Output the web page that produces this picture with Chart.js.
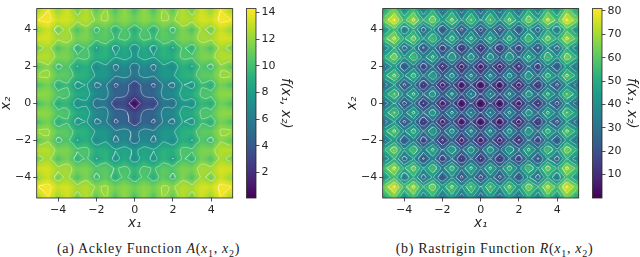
<!DOCTYPE html>
<html>
  <head>
    <meta charset="utf-8">
    <title>Ackley and Rastrigin</title>
    <script src="https://cdn.jsdelivr.net/npm/chart.js@4"></script>
    <style>
      html, body { margin: 0; padding: 0; background: #fff; width: 640px; height: 257px; overflow: hidden; }
      canvas { position: absolute; }
      .cap { position: absolute; top: 241px; font: 14px "Liberation Serif", serif; color: #222; white-space: nowrap; letter-spacing: 0.7px; transform: translateX(-50%); }
      .cap sub { font-size: 10px; line-height: 0; }
    </style>
  </head>
  <body>
    <canvas id="heat0"></canvas>
    <canvas id="bar0"></canvas>
    <canvas id="heat1"></canvas>
    <canvas id="bar1"></canvas>
    <div class="cap" style="left:148.5px">(a) Ackley Function <i>A</i>(<i>x</i><sub>1</sub>, <i>x</i><sub>2</sub>)</div>
    <div class="cap" style="left:494.5px">(b) Rastrigin Function <i>R</i>(<i>x</i><sub>1</sub>, <i>x</i><sub>2</sub>)</div>
    <script type="text/javascript">
      // quarter of each surface, x and y from 0 to 5 in steps of 0.25 (the picture is mirror symmetric)
      const gridStep = 0.25;
      const ackleyRows = [
        [0,1.8,3.1,3.1,2.6,4.3,5.5,5.5,4.9,6.5,7.7,7.5,6.9,8.4,9.5,9.3,8.6,10.1,11.1,10.9,10.1],
        [1.8,2.7,3.6,3.8,3.8,5.0,6.0,6.1,6.0,7.2,8.1,8.2,8.0,9.1,9.9,10.0,9.7,10.8,11.5,11.5,11.2],
        [3.1,3.6,4.3,4.5,4.6,5.6,6.3,6.6,6.8,7.7,8.4,8.6,8.7,9.6,10.2,10.4,10.4,11.2,11.8,11.9,11.9],
        [3.1,3.8,4.5,4.5,4.3,5.4,6.3,6.4,6.3,7.4,8.3,8.3,8.2,9.2,10.1,10.1,9.8,10.9,11.6,11.6,11.3],
        [2.6,3.8,4.6,4.3,3.6,5.1,6.2,6.0,5.4,7.0,8.1,7.8,7.2,8.7,9.8,9.5,8.8,10.3,11.3,11.0,10.3],
        [4.3,5.0,5.6,5.4,5.1,6.1,6.9,6.9,6.7,7.8,8.6,8.7,8.4,9.5,10.3,10.3,10.0,11.0,11.8,11.7,11.4],
        [5.5,6.0,6.3,6.3,6.2,6.9,7.5,7.7,7.7,8.5,9.1,9.3,9.3,10.1,10.7,10.8,10.8,11.5,12.1,12.2,12.2],
        [5.5,6.1,6.6,6.4,6.0,6.9,7.7,7.6,7.3,8.3,9.1,9.1,8.8,9.9,10.6,10.6,10.3,11.3,12.0,12.0,11.6],
        [4.9,6.0,6.8,6.3,5.4,6.7,7.7,7.3,6.6,8.0,9.0,8.7,7.9,9.4,10.4,10.1,9.4,10.8,11.8,11.4,10.7],
        [6.5,7.2,7.7,7.4,7.0,7.8,8.5,8.3,8.0,9.0,9.7,9.6,9.3,10.3,11.0,10.9,10.6,11.6,12.3,12.2,11.9],
        [7.7,8.1,8.4,8.3,8.1,8.6,9.1,9.1,9.0,9.7,10.2,10.3,10.2,10.9,11.5,11.5,11.5,12.2,12.7,12.8,12.7],
        [7.5,8.2,8.6,8.3,7.8,8.7,9.3,9.1,8.7,9.6,10.3,10.2,9.8,10.8,11.4,11.4,11.0,12.0,12.6,12.5,12.2],
        [6.9,8.0,8.7,8.2,7.2,8.4,9.3,8.8,7.9,9.3,10.2,9.8,9.0,10.4,11.3,10.9,10.1,11.5,12.4,12.1,11.2],
        [8.4,9.1,9.6,9.2,8.7,9.5,10.1,9.9,9.4,10.3,10.9,10.8,10.4,11.3,11.9,11.8,11.4,12.3,13.0,12.9,12.5],
        [9.5,9.9,10.2,10.1,9.8,10.3,10.7,10.6,10.4,11.0,11.5,11.4,11.3,11.9,12.4,12.4,12.3,12.9,13.4,13.4,13.3],
        [9.3,10.0,10.4,10.1,9.5,10.3,10.8,10.6,10.1,10.9,11.5,11.4,10.9,11.8,12.4,12.3,11.9,12.8,13.4,13.2,12.8],
        [8.6,9.7,10.4,9.8,8.8,10.0,10.8,10.3,9.4,10.6,11.5,11.0,10.1,11.4,12.3,11.9,11.0,12.3,13.2,12.8,11.9],
        [10.1,10.8,11.2,10.9,10.3,11.0,11.5,11.3,10.8,11.6,12.2,12.0,11.5,12.3,12.9,12.8,12.3,13.2,13.8,13.6,13.2],
        [11.1,11.5,11.8,11.6,11.3,11.8,12.1,12.0,11.8,12.3,12.7,12.6,12.4,13.0,13.4,13.4,13.2,13.8,14.2,14.2,14.0],
        [10.9,11.5,11.9,11.6,11.0,11.7,12.2,12.0,11.4,12.2,12.8,12.5,12.1,12.9,13.4,13.2,12.8,13.6,14.2,14.0,13.5],
        [10.1,11.2,11.9,11.3,10.3,11.4,12.2,11.6,10.7,11.9,12.7,12.2,11.2,12.5,13.3,12.8,11.9,13.2,14.0,13.5,12.6]
      ];
      const rastriginRows = [
        [0,10,20,11,1,12,22,13,4,15,26,18,9,21,32,24,16,28,40,33,25],
        [10,20,30,21,11,22,32,23,14,25,36,28,19,31,42,34,26,38,50,43,35],
        [20,30,41,31,21,32,43,33,24,35,47,38,29,41,53,44,36,48,61,53,45],
        [11,21,31,21,12,22,33,24,15,26,37,28,20,31,43,35,27,39,51,43,36],
        [1,11,21,12,2,13,23,14,5,16,27,19,9.5,22,33,25,17,29,41,34,26],
        [12,22,32,22,13,23,34,25,16,27,38,29,21,32,44,36,28,40,52,44,37],
        [22,32,43,33,23,34,45,35,26,37,49,40,31,43,55,46,38,50,63,55,47],
        [13,23,33,24,14,25,35,26,17,28,39,31,22,34,45,37,29,41,53,46,38],
        [4,14,24,15,5,16,26,17,8,19,30,22,13,25,36,28,20,32,44,37,29],
        [15,25,35,26,16,27,37,28,19,30,41,33,24,36,47,39,31,43,55,48,40],
        [26,36,47,37,27,38,49,39,30,41,53,44,35,47,59,50,42,54,67,59,51],
        [18,28,38,28,19,29,40,31,22,33,44,35,27,38,50,42,34,46,58,50,43],
        [9,19,29,20,9.5,21,31,22,13,24,35,27,18,30,41,33,25,37,49,42,34],
        [21,31,41,31,22,32,43,34,25,36,47,38,30,41,53,45,37,49,61,53,46],
        [32,42,53,43,33,44,55,45,36,47,59,50,41,53,65,56,48,60,73,65,57],
        [24,34,44,35,25,36,46,37,28,39,50,42,33,45,56,48,40,52,64,57,49],
        [16,26,36,27,17,28,38,29,20,31,42,34,25,37,48,40,32,44,56,49,41],
        [28,38,48,39,29,40,50,41,32,43,54,46,37,49,60,52,44,56,68,61,53],
        [40,50,61,51,41,52,63,53,44,55,67,58,49,61,73,64,56,68,81,73,65],
        [33,43,53,43,34,44,55,46,37,48,59,50,42,53,65,57,49,61,73,65,58],
        [25,35,45,36,26,37,47,38,29,40,51,43,34,46,57,49,41,53,65,58,50]
      ];
      const axisTicks = [-4, -2, 0, 2, 4];
      const ackleyLevels = [2, 4, 6, 8, 10, 12, 14];
      const rastriginLevels = [10, 20, 30, 40, 50, 60, 70, 80];
      const ackleyBarTicks = [2, 4, 6, 8, 10, 12, 14];
      const rastriginBarTicks = [10, 20, 30, 40, 50, 60, 70, 80];
      const viridis = ['#440154','#482173','#433e85','#38598c','#2d708e','#25858e','#1e9b8a','#2ab07f','#51c56a','#85d54a','#c2df23','#fde725'];

      const inkColor = '#262626';
      const tickFont = { family: 'DejaVu Sans', size: 11 };
      const labelFont = { family: 'DejaVu Sans', size: 13.5, style: 'italic' };

      function viridisColor(t) {
        t = Math.min(1, Math.max(0, t)) * (viridis.length - 1);
        const i = Math.min(viridis.length - 2, Math.floor(t)), f = t - i;
        const a = parseInt(viridis[i].slice(1), 16), b = parseInt(viridis[i + 1].slice(1), 16);
        const mix = s => Math.round(((a >> s) & 255) * (1 - f) + ((b >> s) & 255) * f);
        return 'rgb(' + mix(16) + ',' + mix(8) + ',' + mix(0) + ')';
      }

      // contour lines from the table: marching squares on the mirrored grid, then chained into runs
      function contourPoints(rows, level) {
        const n = rows.length - 1, segs = [], byKey = {};
        const val = (k, l) => rows[Math.abs(l)][Math.abs(k)];
        const keyOf = p => p.x.toFixed(4) + '_' + p.y.toFixed(4);
        for (let l = -n; l < n; l++) {
          for (let k = -n; k < n; k++) {
            const c = [[k, l], [k + 1, l], [k + 1, l + 1], [k, l + 1]];
            const cross = [];
            for (let e = 0; e < 4; e++) {
              const p = c[e], q = c[(e + 1) % 4];
              const vp = val(p[0], p[1]), vq = val(q[0], q[1]);
              if ((vp < level) !== (vq < level)) {
                const f = (level - vp) / (vq - vp);
                cross.push({ x: (p[0] + (q[0] - p[0]) * f) * gridStep, y: (p[1] + (q[1] - p[1]) * f) * gridStep });
              }
            }
            for (let s = 0; s + 1 < cross.length; s += 2) {
              const seg = { a: cross[s], b: cross[s + 1], used: false };
              segs.push(seg);
              (byKey[keyOf(seg.a)] = byKey[keyOf(seg.a)] || []).push(seg);
              (byKey[keyOf(seg.b)] = byKey[keyOf(seg.b)] || []).push(seg);
            }
          }
        }
        const walk = (start, run) => {
          let cur = start;
          for (;;) {
            const next = (byKey[keyOf(cur)] || []).find(s => !s.used);
            if (!next) return;
            next.used = true;
            cur = keyOf(next.a) === keyOf(cur) ? next.b : next.a;
            run.push(cur);
          }
        };
        const pts = [];
        segs.forEach(seg => {
          if (seg.used) return;
          seg.used = true;
          const head = [], tail = [];
          walk(seg.a, head);
          walk(seg.b, tail);
          const run = head.reverse().concat([seg.a, seg.b], tail);
          // closed runs go round a little further so the bezier has no corner at the seam
          if (keyOf(run[0]) === keyOf(run[run.length - 1]) && run.length > 2) run.push(run[1], run[2]);
          run.forEach(p => pts.push(p));
          pts.push({ x: NaN, y: NaN });
        });
        return pts;
      }

      const frame = {
        id: 'frame',
        afterDatasetDraw(chart, args) {
          if (args.index !== 0 || !chart.options.plugins.frame.blur) return;
          const a = chart.chartArea, ctx = chart.ctx;
          ctx.save();
          ctx.beginPath();
          ctx.rect(a.left, a.top, a.width, a.height);
          ctx.clip();
          ctx.filter = 'blur(' + chart.options.plugins.frame.blur + 'px)';
          ctx.drawImage(ctx.canvas, 0, 0);
          ctx.restore();
        },
        afterDraw(chart) {
          const a = chart.chartArea, ctx = chart.ctx;
          ctx.save();
          ctx.strokeStyle = inkColor;
          ctx.lineWidth = 0.8;
          ctx.strokeRect(a.left, a.top, a.width, a.height);
          ctx.restore();
        }
      };

      function place(id, left, top, w, h) {
        const c = document.getElementById(id);
        c.width = w; c.height = h;
        c.style.left = left + 'px'; c.style.top = top + 'px';
        c.style.width = w + 'px'; c.style.height = h + 'px';
        return c;
      }

      function axisOptions(title, size, sizeKey) {
        return {
          type: 'linear', min: -5.12, max: 5.12, z: 1,
          afterBuildTicks: ax => { ax.ticks = axisTicks.map(v => ({ value: v })); },
          afterFit: ax => { ax[sizeKey] = size; },
          grid: { drawOnChartArea: false, color: inkColor, tickLength: 3.5, tickWidth: 0.8 },
          border: { display: false },
          ticks: { font: tickFont, color: inkColor, padding: 2, maxRotation: 0, autoSkip: false,
                   callback: v => String(v).replace('-', '\u2212') },
          title: { display: true, text: title, font: labelFont, color: inkColor, padding: 0 }
        };
      }

      function heatChart(id, left, rows, levels, vmax) {
        const cells = [], colors = [], n = rows.length - 1;
        for (let l = -n; l <= n; l++) {
          for (let k = -n; k <= n; k++) {
            const v = rows[Math.abs(l)][Math.abs(k)];
            cells.push({ x: k * gridStep, y: l * gridStep });
            colors.push(viridisColor(v / vmax));
          }
        }
        const datasets = [{
          data: cells, order: 10, showLine: false, pointStyle: 'rect', pointRadius: 3.9,
          pointBorderWidth: 0, pointBackgroundColor: colors
        }];
        levels.forEach(level => datasets.push({
          data: contourPoints(rows, level), order: 1, showLine: true, pointRadius: 0,
          borderColor: 'rgba(255,255,255,0.6)', borderWidth: 0.65, spanGaps: false, tension: 0.5
        }));
        return new Chart(place(id, left, 0, 240, 232), {
          type: 'scatter',
          data: { datasets: datasets },
          plugins: [frame],
          options: {
            responsive: false, animation: false, events: [],
            layout: { padding: { top: 2.5, right: 5.3, left: 0, bottom: 0 } },
            plugins: { legend: { display: false }, tooltip: { enabled: false }, frame: { blur: 1.5 } },
            scales: {
              x: axisOptions('x\u2081', 34, 'height'),
              y: axisOptions('x\u2082', 38.7, 'width')
            }
          }
        });
      }

      function barChart(id, left, low, high, barTicks) {
        return new Chart(place(id, left, 0, 54, 215), {
          type: 'bar',
          data: {
            labels: ['f'],
            datasets: [{
              data: [[low, high]], barPercentage: 1, categoryPercentage: 1,
              backgroundColor: ctx => {
                const a = ctx.chart.chartArea;
                if (!a) return viridis[5];
                const g = ctx.chart.ctx.createLinearGradient(0, a.bottom, 0, a.top);
                viridis.forEach((c, i) => g.addColorStop(i / (viridis.length - 1), c));
                return g;
              }
            }]
          },
          plugins: [frame],
          options: {
            responsive: false, animation: false, events: [],
            layout: { padding: { top: 2.5, bottom: 17, left: 6.5, right: 0 } },
            plugins: { legend: { display: false }, tooltip: { enabled: false }, frame: {} },
            scales: {
              x: { display: false },
              y: {
                position: 'right', min: low, max: high, z: 1,
                afterBuildTicks: ax => { ax.ticks = barTicks.map(v => ({ value: v })); },
                afterFit: ax => { ax.width = 38; },
                grid: { drawOnChartArea: false, color: inkColor, tickLength: 3.5, tickWidth: 0.8 },
                border: { display: false },
                ticks: { font: tickFont, color: inkColor, padding: 2, autoSkip: false },
                title: { display: true, text: 'f(x\u2081, x\u2082)', font: labelFont, color: inkColor, padding: 0 }
              }
            }
          }
        });
      }

      heatChart('heat0', -2, ackleyRows, ackleyLevels, 14.3);
      barChart('bar0', 240, 0.09, 14.3, ackleyBarTicks);
      heatChart('heat1', 344, rastriginRows, rastriginLevels, 81);
      barChart('bar1', 585.5, 0, 81, rastriginBarTicks);
    </script>
  </body>
</html>
